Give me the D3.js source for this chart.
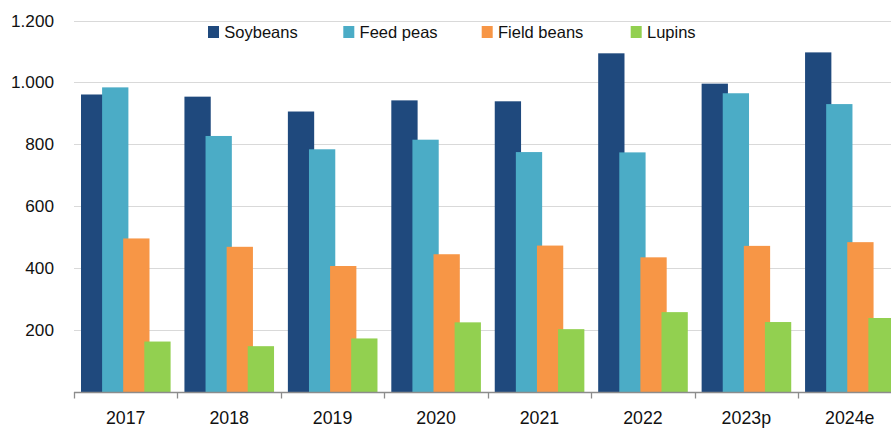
<!DOCTYPE html>
<html>
<head>
<meta charset="utf-8">
<script src="https://cdn.jsdelivr.net/npm/d3@7"></script>
<style>
  html, body { margin: 0; padding: 0; background: #fff; overflow: hidden; }
  svg { display: block; font-family: "Liberation Sans", Arial, sans-serif; }
</style>
</head>
<body>
<svg id="chart" width="891" height="428"></svg>
<script>
const categories = ["2017", "2018", "2019", "2020", "2021", "2022", "2023p", "2024e"];
const seriesNames = ["Soybeans", "Feed peas", "Field beans", "Lupins"];
const soybeans   = [961, 954, 906, 942, 939, 1094, 996, 1097];
const feedPeas   = [984, 827, 784, 815, 775, 774, 965, 930];
const fieldBeans = [496, 469, 407, 445, 473, 435, 472, 484];
const lupins     = [163, 148, 173, 225, 203, 258, 226, 239];
const yTicks = [200, 400, 600, 800, 1000, 1200];
const yTickLabels = ["200", "400", "600", "800", "1.000", "1.200"];
const colors = ["#1F497D", "#4BACC6", "#F79646", "#92D050"];

const seriesValues = [soybeans, feedPeas, fieldBeans, lupins];

const svg = d3.select("#chart");
const plotLeft = 74, plotRight = 901.5, plotBottom = 392, plotTop = 20.5;

const x = d3.scaleBand().domain(categories).range([plotLeft, plotRight]).paddingInner(0).paddingOuter(0);
const y = d3.scaleLinear().domain([0, 1200]).range([plotBottom, plotTop]);

const barStep = 21.1, barW = 26.3, groupOffset = 7;

// gridlines
svg.append("g")
  .selectAll("line")
  .data(yTicks)
  .join("line")
  .attr("x1", plotLeft).attr("x2", 891)
  .attr("y1", d => Math.round(y(d)) + 0.5).attr("y2", d => Math.round(y(d)) + 0.5)
  .attr("stroke", "#d9d9d9").attr("stroke-width", 1.2);

// y labels
svg.append("g")
  .selectAll("text")
  .data(yTicks)
  .join("text")
  .attr("x", 54)
  .attr("y", d => y(d))
  .attr("dy", "0.35em")
  .attr("text-anchor", "end")
  .attr("font-size", 17.2)
  .attr("fill", "#111")
  .text((d, i) => yTickLabels[i]);

// bars
seriesNames.forEach((name, si) => {
  svg.append("g")
    .selectAll("rect")
    .data(categories.map((c, ci) => ({ c, v: seriesValues[si][ci] })))
    .join("rect")
    .attr("x", d => x(d.c) + groupOffset + si * barStep)
    .attr("width", barW)
    .attr("y", d => y(d.v))
    .attr("height", d => plotBottom - y(d.v))
    .attr("fill", colors[si]);
});

// x axis
const xAxisG = svg.append("g");
xAxisG.append("line")
  .attr("x1", plotLeft).attr("x2", 891)
  .attr("y1", plotBottom + 0.5).attr("y2", plotBottom + 0.5)
  .attr("stroke", "#8c8c8c").attr("stroke-width", 1.3);
const boundaries = categories.map(c => x(c)).concat([x(categories[categories.length - 1]) + x.bandwidth()]);
xAxisG.selectAll("line.tick")
  .data(boundaries)
  .join("line")
  .attr("class", "tick")
  .attr("x1", d => Math.round(d) + 0.5).attr("x2", d => Math.round(d) + 0.5)
  .attr("y1", plotBottom).attr("y2", plotBottom + 6.5)
  .attr("stroke", "#8c8c8c").attr("stroke-width", 1.3);
xAxisG.selectAll("text")
  .data(categories)
  .join("text")
  .attr("x", d => x(d) + x.bandwidth() / 2)
  .attr("y", 424.3)
  .attr("text-anchor", "middle")
  .attr("font-size", 17.8)
  .attr("fill", "#111")
  .text(d => d);

// legend
const legendX = [208, 343.3, 481.7, 630.7];
const lg = svg.append("g");
seriesNames.forEach((name, i) => {
  lg.append("rect")
    .attr("x", legendX[i]).attr("y", 26)
    .attr("width", 11).attr("height", 12)
    .attr("fill", colors[i]);
  lg.append("text")
    .attr("x", legendX[i] + 16.3).attr("y", 38.2)
    .attr("font-size", 16.5)
    .attr("fill", "#111")
    .text(name);
});
</script>
</body>
</html>
